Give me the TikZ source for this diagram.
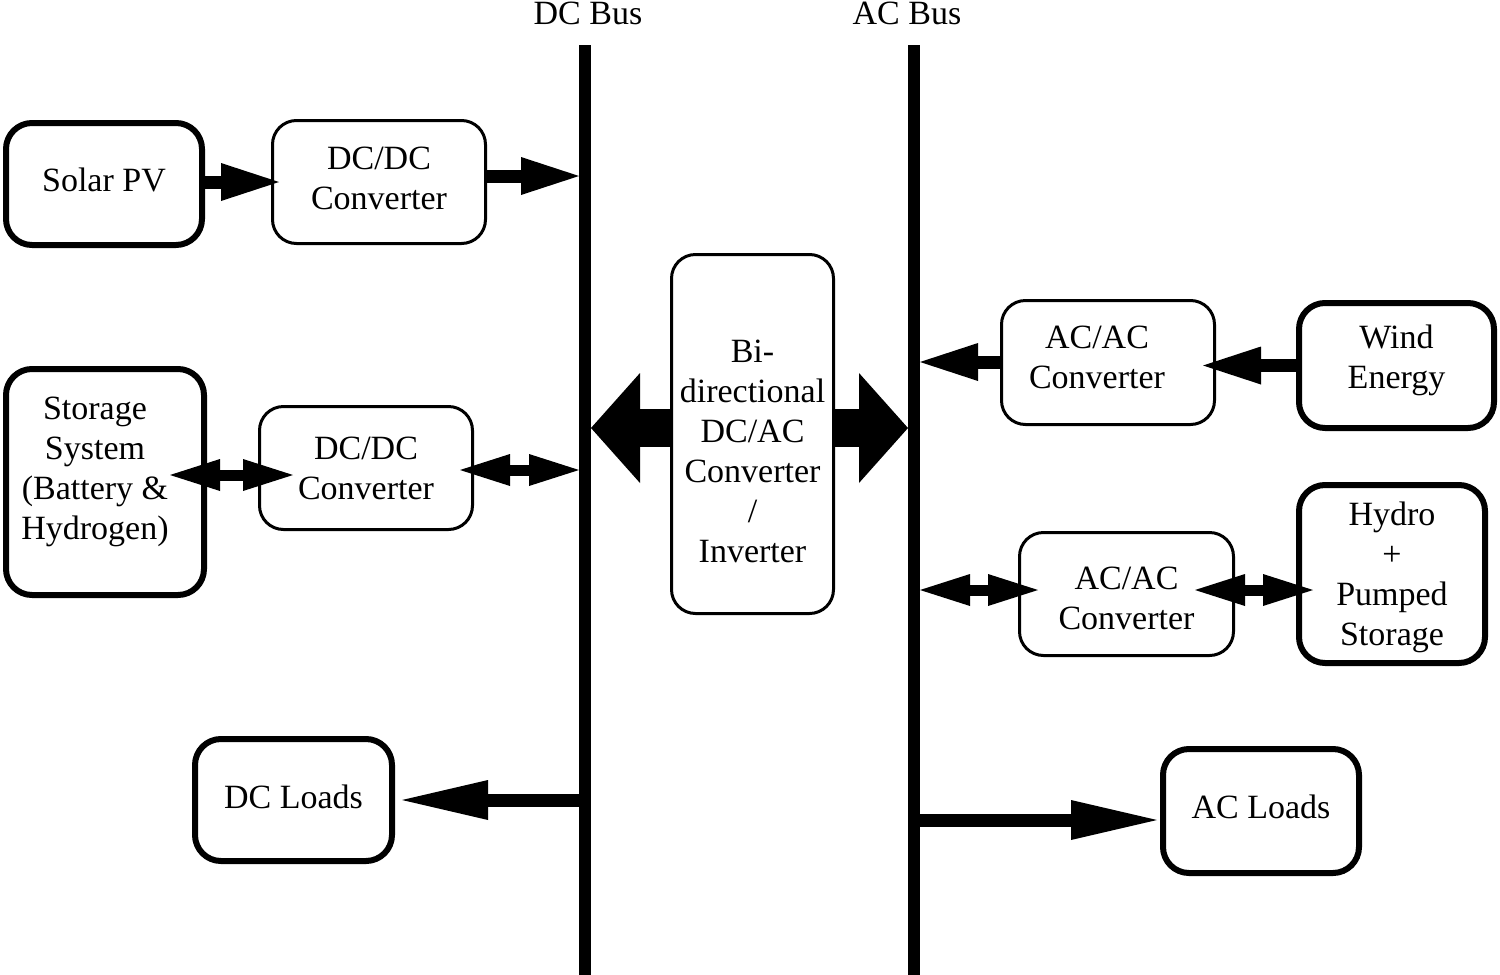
\documentclass[tikz,border=0pt]{standalone}
\usepackage{fontspec}
\setmainfont{Liberation Serif}
\usetikzlibrary{arrows.meta}
\begin{document}
\begin{tikzpicture}[x=1pt,y=-1pt,
  font=\fontsize{34}{40}\selectfont,
  txt/.style={align=center,inner sep=0pt,font=\fontsize{34}{40}\selectfont},
  thickbox/.style={draw,line width=6pt,rounded corners=26pt,inner sep=0pt},
  thinbox/.style={draw,line width=3pt,rounded corners=24pt,inner sep=0pt},
  bus/.style={line width=12pt},
  arr/.style={line width=13pt,-{Triangle[length=58pt,width=38pt,line width=0pt]}},
  dbl/.style={line width=11pt,{Triangle[length=50pt,width=32pt,line width=0pt]}-{Triangle[length=50pt,width=32pt,line width=0pt]}},
  longarr/.style={line width=13pt,-{Triangle[length=86pt,width=40pt,line width=0pt]}},
  bigarr/.style={line width=38pt,-{Triangle[length=49pt,width=110pt,line width=0pt]}}
]
\useasboundingbox (0,0) rectangle (1500,975);

% buses
\coordinate (dctop) at (585,45);
\coordinate (dcbot) at (585,975);
\coordinate (actop) at (914,45);
\coordinate (acbot) at (914,975);
\draw[bus] (dctop) -- (dcbot);
\draw[bus] (actop) -- (acbot);
\node (dclabel) at (588,13) {DC Bus};
\node (aclabel) at (907,13) {AC Bus};

% boxes
\node[thickbox,minimum width=196pt,minimum height=122pt,
  label={[name=solartxt,txt,yshift=4pt]center:Solar PV}] (solar) at (104,184) {};
\node[thinbox,minimum width=213pt,minimum height=123pt,
  label={[name=dcdc1txt,txt,yshift=4pt]center:DC/DC\\Converter}] (dcdc1) at (379,182) {};
\node[thickbox,minimum width=198pt,minimum height=226pt,
  label={[name=storagetxt,txt,yshift=10pt,xshift=-10pt]center:Storage\\System\\(Battery \&\\Hydrogen)}] (storage) at (105,482) {};
\node[thinbox,minimum width=213pt,minimum height=123pt,
  label={[name=dcdc2txt,txt]center:DC/DC\\Converter}] (dcdc2) at (366,468) {};
\node[thickbox,minimum width=197pt,minimum height=122pt,
  label={[name=dcloadstxt,txt,yshift=3pt]center:DC Loads}] (dcloads) at (293.5,800) {};
\node[thinbox,minimum width=162pt,minimum height=359pt,
  label={[name=bitxt,txt,yshift=-17pt]center:Bi-\\directional\\DC/AC\\Converter\\/\\Inverter}] (bi) at (752.5,434) {};
\node[thinbox,minimum width=213pt,minimum height=124pt,
  label={[name=acac1txt,txt,yshift=5pt,xshift=-11pt]center:AC/AC\\Converter}] (acac1) at (1108,362.5) {};
\node[thickbox,minimum width=195pt,minimum height=125pt,
  label={[name=windtxt,txt,yshift=5pt]center:Wind\\Energy}] (wind) at (1396.5,365.5) {};
\node[thinbox,minimum width=214pt,minimum height=123pt,
  label={[name=acac2txt,txt,yshift=-4pt]center:AC/AC\\Converter}] (acac2) at (1126.5,594) {};
\node[thickbox,minimum width=186pt,minimum height=178pt,
  label={[name=hydrotxt,txt,yshift=-3pt]center:Hydro\\+\\Pumped\\Storage}] (hydro) at (1392,574) {};
\node[thickbox,minimum width=196pt,minimum height=124pt,
  label={[name=acloadstxt,txt,yshift=4pt]center:AC Loads}] (acloads) at (1261,811) {};

% bus coordinates
\coordinate (dcb1) at (579,176);
\coordinate (dcb2) at (579,470);
\coordinate (dcb3) at (591,428);
\coordinate (dcb4) at (579,800);
\coordinate (acb1) at (920,362);
\coordinate (acb2) at (920,590);
\coordinate (acb3) at (908,428);
\coordinate (acb4) at (920,820);

% connectors
\draw[arr,shorten >=-8pt] (solar.east |- dcdc1.west) -- (dcdc1.west);
\draw[arr] (dcdc1.east |- dcb1) -- (dcb1);
\draw[dbl,shorten <=-37pt,shorten >=-35pt] (storage.east |- dcb2) ++(0,5) coordinate (s1) (s1) -- (dcdc2.west |- s1);
\draw[dbl,shorten <=-14pt] (dcdc2.east |- dcb2) -- (dcb2);
\draw[bigarr] (bi.west |- dcb3) -- (dcb3);
\draw[bigarr] (bi.east |- acb3) -- (acb3);
\draw[longarr,shorten >=7pt] (dcb4) -- (dcloads.east |- dcb4);
\draw[arr] (acac1.west |- acb1) -- (acb1);
\draw[arr,shorten >=-13pt] (wind.west) -- (acac1.east |- wind.west);
\draw[dbl,shorten >=-20pt] (acb2) -- (acac2.west |- acb2);
\draw[dbl,shorten <=-40pt,shorten >=-17pt] (acac2.east |- acb2) -- (hydro.west |- acb2);
\draw[longarr,shorten >=3pt] (acb4) -- (acloads.west |- acb4);
\end{tikzpicture}
\end{document}
